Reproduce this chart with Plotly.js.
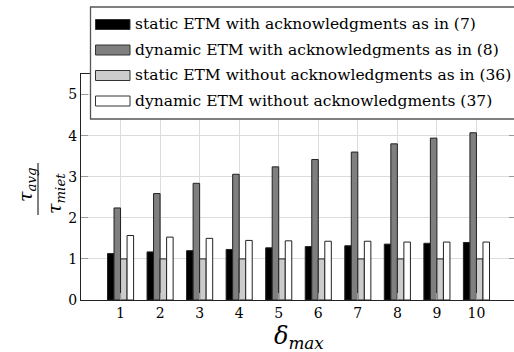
<!DOCTYPE html>
<html><head><meta charset="utf-8">
<script src="https://cdn.plot.ly/plotly-3.0.1.min.js"></script>
<style>html,body{margin:0;padding:0;overflow:hidden;background:#fff}</style>
</head><body><div id="chart" style="width:516px;height:352px"></div>
<script>
const deltaMax = [1, 2, 3, 4, 5, 6, 7, 8, 9, 10];
const staticAck = [1.13, 1.17, 1.20, 1.23, 1.27, 1.30, 1.32, 1.36, 1.38, 1.40];
const dynamicAck = [2.24, 2.59, 2.84, 3.06, 3.24, 3.42, 3.60, 3.80, 3.94, 4.07];
const staticNoAck = [1.0, 1.0, 1.0, 1.0, 1.0, 1.0, 1.0, 1.0, 1.0, 1.0];
const dynamicNoAck = [1.57, 1.53, 1.50, 1.45, 1.44, 1.43, 1.43, 1.41, 1.41, 1.41];
const seriesNames = [
  "static ETM with acknowledgments as in (7)",
  "dynamic ETM with acknowledgments as in (8)",
  "static ETM without acknowledgments as in (36)",
  "dynamic ETM without acknowledgments (37)"
];
const yTicks = [0, 1, 2, 3, 4, 5];

const colors = ["#000000", "#7f7f7f", "#cccccc", "#ffffff"];
const seriesValues = [staticAck, dynamicAck, staticNoAck, dynamicNoAck];
const FONT = "DejaVu Serif";

const W = 516, H = 352, ML = 81, MR = 0, MT = 74, MB = 52;
const PW = W - ML - MR, PH = H - MT - MB;
const px = v => (v - ML) / PW;
const py = v => (H - MB - v) / PH;

const traces = seriesValues.map((vals, i) => ({
  type: "bar",
  x: deltaMax,
  y: vals,
  name: seriesNames[i],
  marker: {color: colors[i], line: {color: "#222", width: 1}},
  hoverinfo: "skip",
  showlegend: false
}));

const shapes = [];
const annotations = [];
shapes.push({type: "rect", xref: "paper", yref: "paper", layer: "above",
  x0: px(90.5), x1: 1.03, y0: py(119), y1: py(7),
  fillcolor: "#ffffff", line: {color: "#555", width: 1.3}});
const rowY = [24.5, 50, 75.5, 101];
seriesNames.forEach((n, i) => {
  shapes.push({type: "rect", xref: "paper", yref: "paper", layer: "above",
    x0: px(95.5), x1: px(130), y0: py(rowY[i] + 5), y1: py(rowY[i] - 5),
    fillcolor: colors[i], line: {color: "#333", width: 1}});
  annotations.push({xref: "paper", yref: "paper", x: px(133), y: py(rowY[i]),
    xanchor: "left", yanchor: "middle", showarrow: false, text: n,
    font: {family: FONT, size: 15.5, color: "#000"}});
});
shapes.push({type: "line", xref: "paper", yref: "paper", layer: "above",
  x0: px(38), x1: px(38), y0: py(163), y1: py(215), line: {color: "#000", width: 1}});
annotations.push({xref: "paper", yref: "paper", x: px(26), y: py(185), textangle: -90,
  xanchor: "center", yanchor: "middle", showarrow: false,
  text: "<i>τ<sub>avg</sub></i>", font: {family: FONT, size: 19, color: "#000"}});
annotations.push({xref: "paper", yref: "paper", x: px(55), y: py(194), textangle: -90,
  xanchor: "center", yanchor: "middle", showarrow: false,
  text: "<i>τ<sub>miet</sub></i>", font: {family: FONT, size: 19, color: "#000"}});
annotations.push({xref: "paper", yref: "paper", x: 0.5, y: py(337),
  xanchor: "center", yanchor: "middle", showarrow: false,
  text: "<i>δ<sub>max</sub></i>", font: {family: FONT, size: 24, color: "#000"}});

const layout = {
  width: W, height: H,
  margin: {l: ML, r: MR, t: MT, b: MB, pad: 0},
  paper_bgcolor: "#fff", plot_bgcolor: "#fff",
  barmode: "group", bargap: 0.34, bargroupgap: 0,
  font: {family: FONT, size: 14, color: "#000"},
  showlegend: false,
  xaxis: {
    range: [0, 11], tickvals: deltaMax, ticktext: deltaMax.map(String),
    showgrid: true, gridcolor: "#dcdcdc", gridwidth: 1,
    ticks: "inside", ticklen: 7, tickcolor: "#999", tickwidth: 1,
    showline: true, linecolor: "#222", linewidth: 1, mirror: "ticks",
    zeroline: false, tickfont: {family: FONT, size: 14}
  },
  yaxis: {
    range: [0, 5.5], tickvals: yTicks,
    showgrid: true, gridcolor: "#dcdcdc", gridwidth: 1,
    ticks: "inside", ticklen: 7, tickcolor: "#999", tickwidth: 1,
    showline: true, linecolor: "#222", linewidth: 1, mirror: "ticks",
    zeroline: false, tickfont: {family: FONT, size: 14}
  },
  shapes: shapes,
  annotations: annotations
};

Plotly.newPlot("chart", traces, layout, {staticPlot: true, displayModeBar: false});
</script>
</body></html>
